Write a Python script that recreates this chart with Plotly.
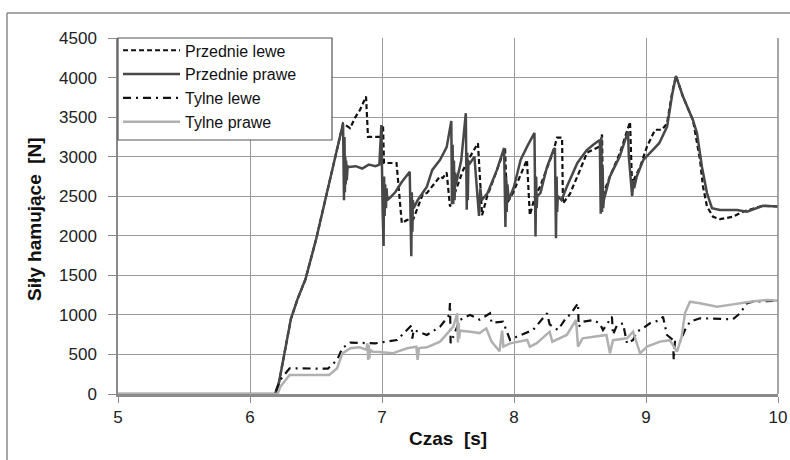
import plotly.graph_objects as go

# ---------------- data ----------------
t_przednie_prawe = [5.00, 6.19, 6.22, 6.26, 6.31, 6.36, 6.42, 6.50, 6.57, 6.63, 6.67, 6.705,
                    6.712, 6.716, 6.719, 6.722, 6.725, 6.728, 6.733, 6.74, 6.75, 6.80, 6.85, 6.90, 6.95, 6.98,
                    6.995, 7.005, 7.012, 7.016, 7.02, 7.024, 7.03, 7.035, 7.04, 7.06, 7.10, 7.15, 7.21,
                    7.222, 7.226, 7.23, 7.234, 7.24, 7.27, 7.34, 7.38, 7.44, 7.49, 7.525,
                    7.530, 7.535, 7.540, 7.545, 7.550, 7.555, 7.56, 7.60, 7.635,
                    7.642, 7.646, 7.65, 7.655, 7.66, 7.70, 7.735, 7.745, 7.755, 7.80, 7.87, 7.925,
                    7.935, 7.94, 7.945, 7.95, 7.96, 8.00, 8.05, 8.10, 8.155,
                    8.163, 8.168, 8.172, 8.176, 8.20, 8.25, 8.30, 8.31,
                    8.318, 8.323, 8.327, 8.332, 8.36, 8.40, 8.48, 8.55, 8.60, 8.65,
                    8.657, 8.662, 8.667, 8.672, 8.676, 8.68, 8.727, 8.80, 8.864,
                    8.87, 8.895, 8.905, 8.91, 8.93, 8.98, 9.10, 9.16, 9.20, 9.227,
                    9.28, 9.356, 9.386, 9.424, 9.462, 9.50, 9.56, 9.69, 9.765, 9.886, 10.0]
f_przednie_prawe = [0, 0, 150, 500, 950, 1200, 1450, 1950, 2450, 2880, 3150, 3420,
                    2450, 3250, 2550, 3000, 2650, 2950, 2700, 2880, 2870, 2880, 2850, 2900, 2880, 2900,
                    3400, 2300, 1870, 2750, 2250, 2650, 2350, 2600, 2450, 2480, 2550, 2680, 2810,
                    1740, 2550, 2050, 2450, 2350, 2450, 2620, 2830, 2960, 3120, 3450,
                    2400, 3150, 2400, 2950, 2450, 2800, 2650, 2950, 3550,
                    2330, 3050, 2450, 2950, 2900, 3000, 2250, 2600, 2450, 2540, 2830, 3110,
                    2110, 2750, 2300, 2650, 2450, 2620, 2960, 3130, 3300,
                    1990, 2750, 2350, 2500, 2540, 2870, 3090, 3110,
                    1970, 2750, 2300, 2500, 2450, 2620, 2920, 3080, 3150, 3210,
                    2280, 3250, 2300, 2850, 2350, 2450, 2750, 3000, 3320,
                    3000, 2500, 2700, 2600, 2750, 2960, 3170, 3380, 3800, 4020,
                    3760, 3460, 3300, 2870, 2540, 2350, 2325, 2325, 2305, 2380, 2370]

t_przednie_lewe = [5.00, 6.19, 6.22, 6.26, 6.31, 6.36, 6.42, 6.50, 6.57, 6.63, 6.67, 6.705,
                   6.758, 6.795, 6.833, 6.879, 6.894, 6.947, 6.99, 7.008, 7.015, 7.04, 7.11,
                   7.15, 7.19, 7.235, 7.31, 7.34, 7.44, 7.46, 7.49, 7.515, 7.568, 7.614,
                   7.667, 7.727, 7.758, 7.795, 7.871, 7.932, 7.947, 7.992, 8.045, 8.098,
                   8.12, 8.159, 8.197, 8.295, 8.326, 8.364, 8.371, 8.424, 8.50, 8.553,
                   8.652, 8.667, 8.674, 8.697, 8.727, 8.803, 8.879, 8.894, 8.955, 9.008,
                   9.068, 9.121, 9.159, 9.197, 9.227, 9.28, 9.356, 9.409, 9.432, 9.462,
                   9.508, 9.561, 9.659, 9.735, 9.886, 10.0]
f_przednie_lewe = [0, 0, 150, 500, 950, 1200, 1450, 1950, 2450, 2880, 3150, 3420,
                   3360, 3490, 3590, 3760, 3250, 3250, 3250, 3380, 2920, 2920, 2920,
                   2160, 2200, 2200, 2530, 2540, 2750, 2730, 2800, 2370, 2620, 2830,
                   3000, 3170, 2260, 2490, 2830, 3110, 2410, 2540, 2750, 2960,
                   2260, 2500, 2620, 3050, 3240, 3240, 2410, 2530, 2830, 3050,
                   3130, 3280, 2450, 2620, 2750, 3050, 3440, 2660, 2870, 3130,
                   3340, 3340, 3420, 3800, 4020, 3760, 3460, 2960, 2620, 2370,
                   2240, 2210, 2240, 2305, 2380, 2370]

t_tylne_lewe = [5.00, 6.19, 6.23, 6.30, 6.59, 6.66, 6.70, 6.76, 6.95, 7.114, 7.225, 7.23,
                7.24, 7.34, 7.44, 7.51, 7.515, 7.52, 7.59, 7.667, 7.74, 7.818, 7.83,
                7.917, 7.97, 8.02, 8.144, 8.25, 8.27, 8.333, 8.40, 8.424, 8.485, 8.49,
                8.523, 8.60, 8.65, 8.674, 8.742, 8.75, 8.78, 8.826, 8.856, 8.902,
                8.932, 8.977, 9.03, 9.106, 9.129, 9.159, 9.205, 9.21, 9.22, 9.258,
                9.295, 9.333, 9.409, 9.659, 9.712, 9.765, 9.81, 9.99, 10.0]
f_tylne_lewe = [0, 0, 180, 325, 320, 430, 580, 650, 640, 683, 870, 700,
                810, 746, 851, 1000, 1150, 643, 935, 1000, 940, 1020, 900,
                914, 683, 724, 809, 1020, 880, 809, 977, 999, 1147, 850,
                914, 935, 890, 809, 977, 750, 870, 893, 640, 683,
                788, 830, 893, 935, 977, 746, 683, 430, 680, 660,
                809, 914, 957, 945, 1020, 1147, 1167, 1180, 1180]

t_tylne_prawe = [5.00, 6.21, 6.23, 6.30, 6.60, 6.66, 6.70, 6.76, 6.83, 6.88, 6.89, 6.895,
                 6.90, 6.905, 6.91, 6.93, 6.98, 7.08, 7.19, 7.26, 7.27, 7.28, 7.34, 7.44,
                 7.54, 7.57, 7.575, 7.58, 7.585, 7.59, 7.67, 7.74, 7.79, 7.83, 7.89,
                 7.91, 7.92, 7.97, 8.10, 8.12, 8.17, 8.27, 8.29, 8.40, 8.47, 8.485,
                 8.52, 8.70, 8.727, 8.75, 8.856, 8.902, 8.955, 9.008, 9.106, 9.18,
                 9.235, 9.27, 9.295, 9.333, 9.409, 9.538, 9.659, 9.788, 9.917, 10.0]
f_tylne_prawe = [0, 0, 93, 240, 240, 325, 514, 578, 590, 560, 640, 430,
                 620, 450, 560, 535, 530, 514, 578, 598, 430, 580, 590, 662,
                 851, 1020, 650, 900, 700, 800, 788, 770, 830, 662, 540,
                 800, 600, 640, 683, 598, 640, 788, 662, 746, 935, 598,
                 704, 746, 514, 680, 704, 788, 514, 598, 662, 680,
                 535, 724, 1020, 1167, 1147, 1104, 1133, 1167, 1188, 1180]

series_names = ["Przednie lewe", "Przednie prawe", "Tylne lewe", "Tylne prawe"]
x_ticks = [5, 6, 7, 8, 9, 10]
y_ticks = [0, 500, 1000, 1500, 2000, 2500, 3000, 3500, 4000, 4500]

FONT = "Liberation Sans, Arial, sans-serif"

fig = go.Figure()
fig.add_trace(go.Scatter(x=t_przednie_lewe, y=f_przednie_lewe, mode="lines", name=series_names[0],
                         line=dict(color="#111111", width=2.2, dash="5px,3px")))
fig.add_trace(go.Scatter(x=t_przednie_prawe, y=f_przednie_prawe, mode="lines", name=series_names[1],
                         line=dict(color="#484848", width=2.5)))
fig.add_trace(go.Scatter(x=t_tylne_lewe, y=f_tylne_lewe, mode="lines", name=series_names[2],
                         line=dict(color="#111111", width=2.2, dash="8px,5px,2px,5px")))
fig.add_trace(go.Scatter(x=t_tylne_prawe, y=f_tylne_prawe, mode="lines", name=series_names[3],
                         line=dict(color="#b0b0b0", width=2.5)))

FIG_W, FIG_H = 790, 460
PLOT_L, PLOT_R, PLOT_T, PLOT_B = 118, 778, 38, 394   # page coordinates of the plot area
L, T = PLOT_L, PLOT_T
R, B = FIG_W - PLOT_R, FIG_H - PLOT_B
PW, PH = PLOT_R - PLOT_L, PLOT_B - PLOT_T

def px2paper_x(px):
    return (px - PLOT_L) / PW

def px2paper_y(py):
    return (PLOT_B - py) / PH

fig.update_layout(
    width=FIG_W, height=FIG_H,
    margin=dict(l=L, r=R, t=T, b=B, pad=0, autoexpand=False),
    paper_bgcolor="white", plot_bgcolor="white",
    font=dict(family=FONT, color="#222222"),
    showlegend=True,
    legend=dict(x=0, y=1.013, xanchor="left", yanchor="top",
                bgcolor="rgba(0,0,0,0)", borderwidth=0,
                font=dict(size=16, family=FONT, color="#111111"),
                itemwidth=57, tracegroupgap=0),
    xaxis=dict(range=[5, 10], tickvals=x_ticks, ticktext=[str(v) for v in x_ticks],
               automargin=False,
               showgrid=True, gridcolor="#9a9a9a", gridwidth=1, zeroline=False,
               showline=True, linecolor="#8a8a8a", linewidth=2.5,
               ticks="outside", ticklen=6, tickcolor="#8a8a8a",
               tickfont=dict(size=17, family=FONT, color="#222222")),
    yaxis=dict(range=[0, 4500], tickvals=y_ticks, ticktext=[str(v) for v in y_ticks],
               automargin=False,
               showgrid=True, gridcolor="#9a9a9a", gridwidth=1, zeroline=False,
               showline=True, linecolor="#8a8a8a", linewidth=1.5,
               ticks="outside", ticklen=8, tickcolor="#8a8a8a",
               ticklabelstandoff=8,
               tickfont=dict(size=17, family=FONT, color="#222222")),
    shapes=[
        # legend box
        dict(type="rect", xref="paper", yref="paper", layer="above",
             x0=0, x1=px2paper_x(332), y0=px2paper_y(140), y1=1,
             fillcolor="white", line=dict(color="#555555", width=1.2)),
        # right edge of plot area
        dict(type="line", xref="paper", yref="paper", x0=1, x1=1, y0=0, y1=1,
             line=dict(color="#8a8a8a", width=1.5)),
        # outer chart-area frame
        dict(type="line", xref="paper", yref="paper",
             x0=px2paper_x(7), x1=px2paper_x(7), y0=px2paper_y(462), y1=px2paper_y(13),
             line=dict(color="#8a8a8a", width=1.5)),
        dict(type="line", xref="paper", yref="paper",
             x0=px2paper_x(7), x1=px2paper_x(792), y0=px2paper_y(13), y1=px2paper_y(13),
             line=dict(color="#8a8a8a", width=1.5)),
    ],
    annotations=[
        dict(text="<b>Czas&nbsp; [s]</b>", xref="paper", yref="paper",
             x=px2paper_x(448), y=px2paper_y(438), showarrow=False,
             xanchor="center", yanchor="middle",
             font=dict(size=19, family=FONT, color="#111111")),
        dict(text="<b>Siły hamujące&nbsp; [N]</b>", xref="paper", yref="paper",
             x=px2paper_x(34), y=px2paper_y(219), showarrow=False, textangle=-90,
             xanchor="center", yanchor="middle",
             font=dict(size=19, family=FONT, color="#111111")),
    ],
)

# remove the default 8px page margin so the 790x460 figure fills the window exactly
fig.write_html("out.html",
               config={"displayModeBar": False},
               post_script="document.body.style.margin='0';document.body.style.overflow='hidden';")
